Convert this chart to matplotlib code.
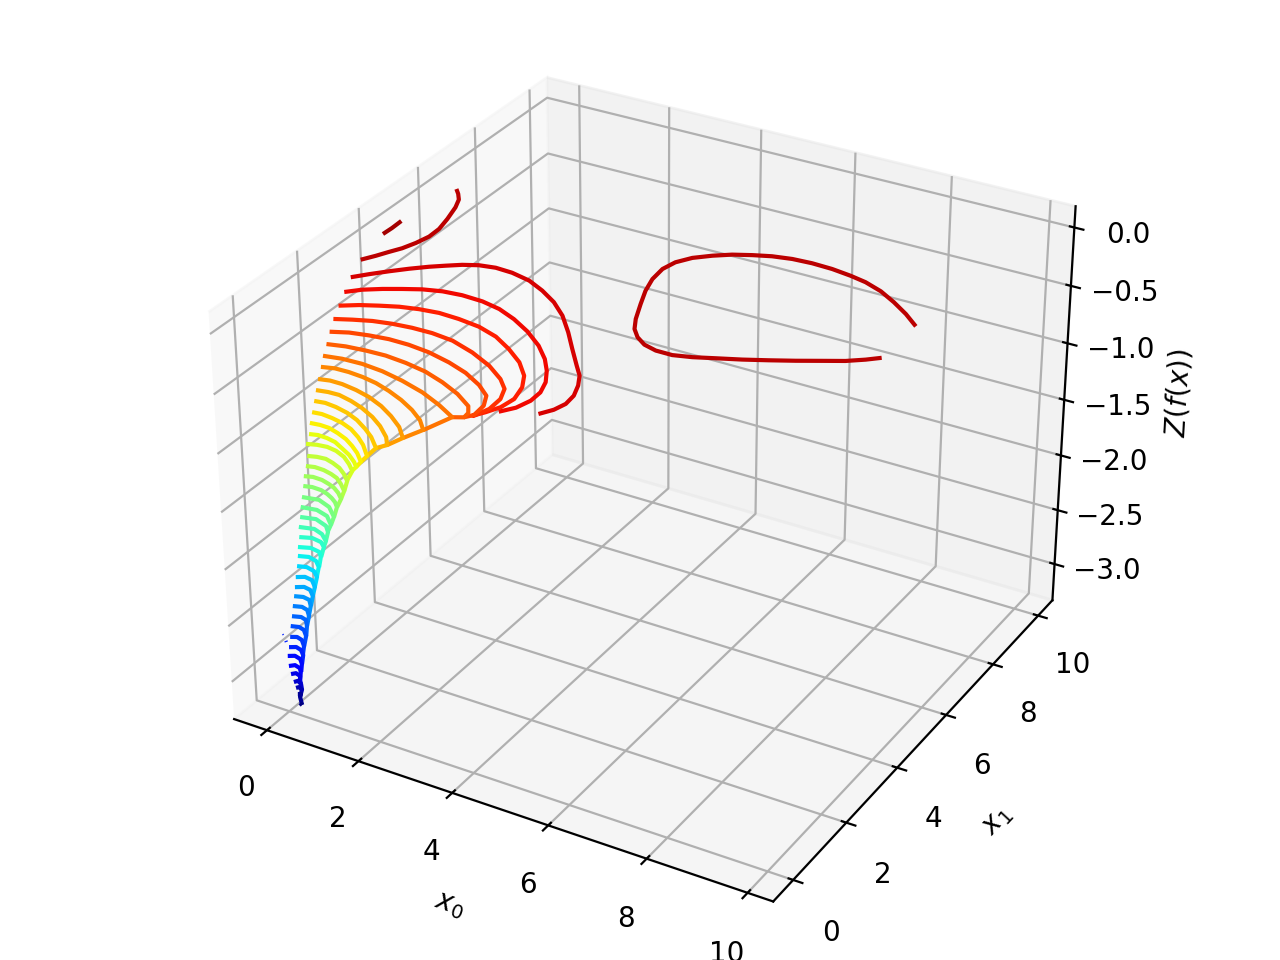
import matplotlib
matplotlib.use("Agg")
import matplotlib.pyplot as plt

# z value of each contour, top to bottom
levels = [-0.080, -0.151, -0.222, -0.294, -0.365, -0.436, -0.507, -0.578, -0.650, -0.721, -0.792,
          -0.863, -0.934, -1.006, -1.077, -1.148, -1.219, -1.290, -1.362, -1.433, -1.504, -1.575,
          -1.646, -1.718, -1.789, -1.860, -1.931, -2.002, -2.074, -2.145, -2.216, -2.287, -2.358,
          -2.430, -2.501, -2.572, -2.643, -2.714, -2.786, -2.857, -2.928, -2.999, -3.070, -3.142]

x0_curves = [
    [-0.47, -0.46, -0.47],
    [-0.44, -0.29, -0.17, -0.04, 0.06, 0.13, 0.12, 0.03, -0.10, -0.22, -0.36, -0.50],
    [-0.40, -0.18, 0.07, 0.33, 0.60, 0.84, 1.08, 1.35, 1.67, 2.03, 2.46, 2.87, 3.28, 3.68, 4.09, 4.47, 4.85, 5.08, 5.24, 5.36, 5.39, 5.32, 5.17],
    [-0.37, -0.14, 0.16, 0.47, 0.79, 1.15, 1.54, 1.98, 2.40, 2.83, 3.28, 3.73, 4.08, 4.33, 4.53, 4.64, 4.65, 4.56, 4.38],
    [-0.35, -0.04, 0.28, 0.62, 0.98, 1.37, 1.80, 2.27, 2.73, 3.17, 3.59, 3.92, 4.11, 4.21, 4.16, 4.03, 3.90, 3.94],
    [-0.33, -0.02, 0.32, 0.69, 1.08, 1.50, 1.97, 2.51, 3.03, 3.46, 3.71, 3.84, 3.86, 3.77, 3.74],
    [-0.30, 0.02, 0.39, 0.78, 1.20, 1.67, 2.18, 2.64, 3.08, 3.40, 3.55, 3.58, 3.47],
    [-0.27, 0.08, 0.48, 0.89, 1.35, 1.83, 2.30, 2.76, 3.16, 3.29, 3.31, 3.13],
    [-0.26, 0.10, 0.52, 0.98, 1.48, 2.02, 2.52, 2.96, 2.77],
    [-0.24, 0.01, 0.30, 0.62, 0.95, 1.31, 1.68, 2.04, 2.36, 2.60, 2.45],
    [-0.21, 0.01, 0.27, 0.61, 0.95, 1.32, 1.67, 2.01, 2.28, 2.18],
    [-0.19, 0.04, 0.27, 0.58, 0.89, 1.23, 1.53, 1.84, 2.01, 1.90],
    [-0.17, 0.04, 0.29, 0.59, 0.88, 1.19, 1.44, 1.73, 1.75],
    [-0.15, 0.04, 0.28, 0.54, 0.80, 1.07, 1.30, 1.58, 1.60],
    [-0.14, 0.06, 0.26, 0.50, 0.75, 0.98, 1.20, 1.43, 1.46],
    [-0.10, 0.06, 0.26, 0.47, 0.69, 0.94, 1.16, 1.29, 1.30],
    [-0.12, 0.07, 0.27, 0.49, 0.73, 0.95, 1.14, 1.25],
    [-0.03, 0.14, 0.32, 0.51, 0.71, 0.90, 1.09, 1.24],
    [-0.02, 0.14, 0.34, 0.53, 0.70, 0.88, 1.07, 1.18],
    [-0.02, 0.14, 0.34, 0.53, 0.69, 0.85, 1.01, 1.11],
    [0.00, 0.16, 0.36, 0.53, 0.68, 0.81, 0.94, 1.09],
    [0.03, 0.35, 0.65, 0.92, 1.03],
    [0.04, 0.35, 0.63, 0.86, 0.95],
    [0.06, 0.35, 0.64, 0.79, 0.93],
    [0.07, 0.35, 0.57, 0.77, 0.85],
    [0.11, 0.33, 0.55, 0.69, 0.84],
    [0.12, 0.34, 0.55, 0.67, 0.84],
    [0.13, 0.32, 0.51, 0.67, 0.83],
    [0.15, 0.32, 0.51, 0.67, 0.83],
    [0.18, 0.32, 0.49, 0.67, 0.81],
    [0.20, 0.34, 0.49, 0.65, 0.81],
    [0.20, 0.36, 0.51, 0.65, 0.81],
    [0.21, 0.37, 0.51, 0.65, 0.81],
    [0.23, 0.39, 0.52, 0.65, 0.83],
    [0.24, 0.39, 0.52, 0.67, 0.83],
    [0.28, 0.39, 0.52, 0.67, 0.82],
    [0.30, 0.41, 0.54, 0.67, 0.82],
    [0.29, 0.40, 0.54, 0.66, 0.80],
    [0.34, 0.42, 0.55, 0.64, 0.78],
    [0.37, 0.43, 0.55, 0.62, 0.71],
    [0.41, 0.45, 0.56, 0.69],
    [0.40, 0.43, 0.53, 0.63],
    [0.39, 0.44, 0.48, 0.66],
    [0.44, 0.47, 0.51],
]
x1_curves = [
    [4.37, 4.66, 4.99],
    [3.57, 3.84, 4.09, 4.34, 4.65, 4.99, 5.35, 5.78, 6.27, 6.58, 6.78, 6.94],
    [3.17, 3.44, 3.72, 3.99, 4.24, 4.43, 4.61, 4.75, 4.82, 4.80, 4.69, 4.47, 4.19, 3.82, 3.33, 2.83, 2.34, 2.05, 1.73, 1.38, 1.06, 0.78, 0.52],
    [2.90, 3.14, 3.35, 3.53, 3.70, 3.82, 3.87, 3.85, 3.75, 3.55, 3.27, 2.91, 2.54, 2.19, 1.82, 1.46, 1.12, 0.78, 0.51],
    [2.67, 2.88, 3.04, 3.19, 3.29, 3.35, 3.33, 3.26, 3.09, 2.81, 2.48, 2.10, 1.72, 1.29, 0.92, 0.64, 0.42, 0.47],
    [2.46, 2.61, 2.75, 2.84, 2.89, 2.90, 2.84, 2.64, 2.37, 2.05, 1.78, 1.43, 1.03, 0.73, 0.71],
    [2.28, 2.43, 2.52, 2.58, 2.58, 2.52, 2.38, 2.20, 1.94, 1.67, 1.34, 0.97, 0.81],
    [2.12, 2.22, 2.27, 2.29, 2.24, 2.14, 1.96, 1.73, 1.45, 1.24, 1.07, 0.97],
    [1.98, 2.06, 2.08, 2.03, 1.91, 1.73, 1.49, 1.23, 0.58],
    [1.87, 1.95, 1.96, 1.93, 1.86, 1.73, 1.56, 1.35, 1.11, 0.84, 0.42],
    [1.72, 1.78, 1.78, 1.72, 1.62, 1.45, 1.23, 0.97, 0.67, 0.32],
    [1.61, 1.66, 1.67, 1.59, 1.47, 1.29, 1.08, 0.80, 0.57, 0.38],
    [1.51, 1.55, 1.52, 1.44, 1.31, 1.11, 0.92, 0.63, 0.31],
    [1.40, 1.43, 1.40, 1.34, 1.23, 1.05, 0.86, 0.56, 0.33],
    [1.30, 1.33, 1.32, 1.24, 1.13, 0.98, 0.81, 0.58, 0.38],
    [1.20, 1.25, 1.24, 1.19, 1.07, 0.93, 0.76, 0.63, 0.47],
    [1.12, 1.19, 1.22, 1.18, 1.07, 0.90, 0.72, 0.38],
    [1.01, 1.07, 1.09, 1.03, 0.94, 0.80, 0.62, 0.30],
    [0.94, 0.99, 0.98, 0.93, 0.86, 0.72, 0.54, 0.27],
    [0.86, 0.92, 0.91, 0.85, 0.78, 0.67, 0.52, 0.24],
    [0.80, 0.85, 0.84, 0.78, 0.70, 0.61, 0.48, 0.16],
    [0.70, 0.77, 0.65, 0.40, 0.14],
    [0.63, 0.69, 0.60, 0.38, 0.14],
    [0.57, 0.65, 0.54, 0.38, 0.10],
    [0.50, 0.58, 0.50, 0.33, 0.14],
    [0.44, 0.53, 0.49, 0.37, 0.06],
    [0.37, 0.46, 0.42, 0.29, -0.02],
    [0.34, 0.41, 0.36, 0.21, -0.09],
    [0.27, 0.33, 0.28, 0.14, -0.17],
    [0.17, 0.26, 0.23, 0.06, -0.22],
    [0.10, 0.19, 0.16, 0.01, -0.29],
    [0.06, 0.12, 0.09, -0.07, -0.37],
    [-0.01, 0.05, 0.01, -0.14, -0.44],
    [-0.08, -0.02, -0.06, -0.22, -0.51],
    [-0.15, -0.10, -0.14, -0.29, -0.59],
    [-0.24, -0.18, -0.22, -0.37, -0.63],
    [-0.32, -0.25, -0.29, -0.41, -0.67],
    [-0.36, -0.29, -0.33, -0.45, -0.68],
    [-0.41, -0.33, -0.37, -0.47, -0.70],
    [-0.40, -0.33, -0.37, -0.48, -0.58],
    [-0.38, -0.31, -0.37, -0.53],
    [-0.31, -0.26, -0.31, -0.52],
    [-0.25, -0.22, -0.31, -0.51],
    [-0.26, -0.28, -0.30],
]

# closed-ish contour further back, same level as curve 1
loop_x0 = [9.43, 9.07, 8.68, 8.29, 7.89, 7.54, 7.13, 6.71, 6.32, 5.95, 5.62, 5.29, 5.00, 4.73, 4.55, 4.48, 4.52,
           4.64, 4.82, 5.03, 5.20, 5.40, 5.64, 5.92, 6.25, 6.59, 6.96, 7.38, 7.79, 8.20, 8.60, 8.95, 9.23, 9.44]
loop_x1 = [6.34, 6.67, 6.97, 7.23, 7.41, 7.50, 7.57, 7.59, 7.56, 7.47, 7.33, 7.16, 6.94, 6.68, 6.37, 6.02, 5.58,
           5.12, 4.63, 4.09, 3.75, 3.51, 3.33, 3.24, 3.24, 3.35, 3.52, 3.71, 3.92, 4.14, 4.37, 4.57, 4.79, 4.99]

# two tiny blue bits left of the stack
speck_x0 = [[-0.05, -0.02], [0.13, 0.16]]
speck_x1 = [[-0.01, -0.03], [-0.17, -0.20]]
speck_level = -2.643

x_ticks = [0, 2, 4, 6, 8, 10]
z_ticks = [-3.0, -2.5, -2.0, -1.5, -1.0, -0.5, 0.0]

fig = plt.figure(figsize=(6.4, 4.8), dpi=200)
ax = fig.add_subplot(projection="3d")
ax.set_box_aspect((4, 4, 3), zoom=1.295)
p = ax.get_position()
ax.set_position([p.x0 - 13 / 1280, p.y0 + 11 / 960, p.width, p.height])

cmap = plt.get_cmap("jet")
norm = plt.Normalize(levels[-1], 0.02)

for xs, ys, z in zip(x0_curves, x1_curves, levels):
    ax.plot(xs, ys, z, color=cmap(norm(z)), solid_capstyle="butt")
ax.plot(loop_x0, loop_x1, levels[1], color=cmap(norm(levels[1])), solid_capstyle="butt")
for xs, ys, lw in zip(speck_x0, speck_x1, (0.6, 1.2)):
    ax.plot(xs, ys, speck_level, color=cmap(norm(speck_level)), lw=lw, solid_capstyle="butt")

ax.set_xlim(-0.73, 10.5)
ax.set_ylim(-0.73, 10.65)
ax.set_zlim(-3.34, 0.18)
ax.set_xticks(x_ticks)
ax.set_yticks(x_ticks)
ax.set_zticks(z_ticks)
ax.tick_params(pad=1.2)
ax.tick_params(axis="x", pad=0.8)
ax.set_xlabel("$x_0$", labelpad=-2)
ax.set_ylabel("$x_1$", labelpad=-1.5)
ax.set_zlabel("$Z(f(x))$", labelpad=-1)

fig.savefig("out.png")
